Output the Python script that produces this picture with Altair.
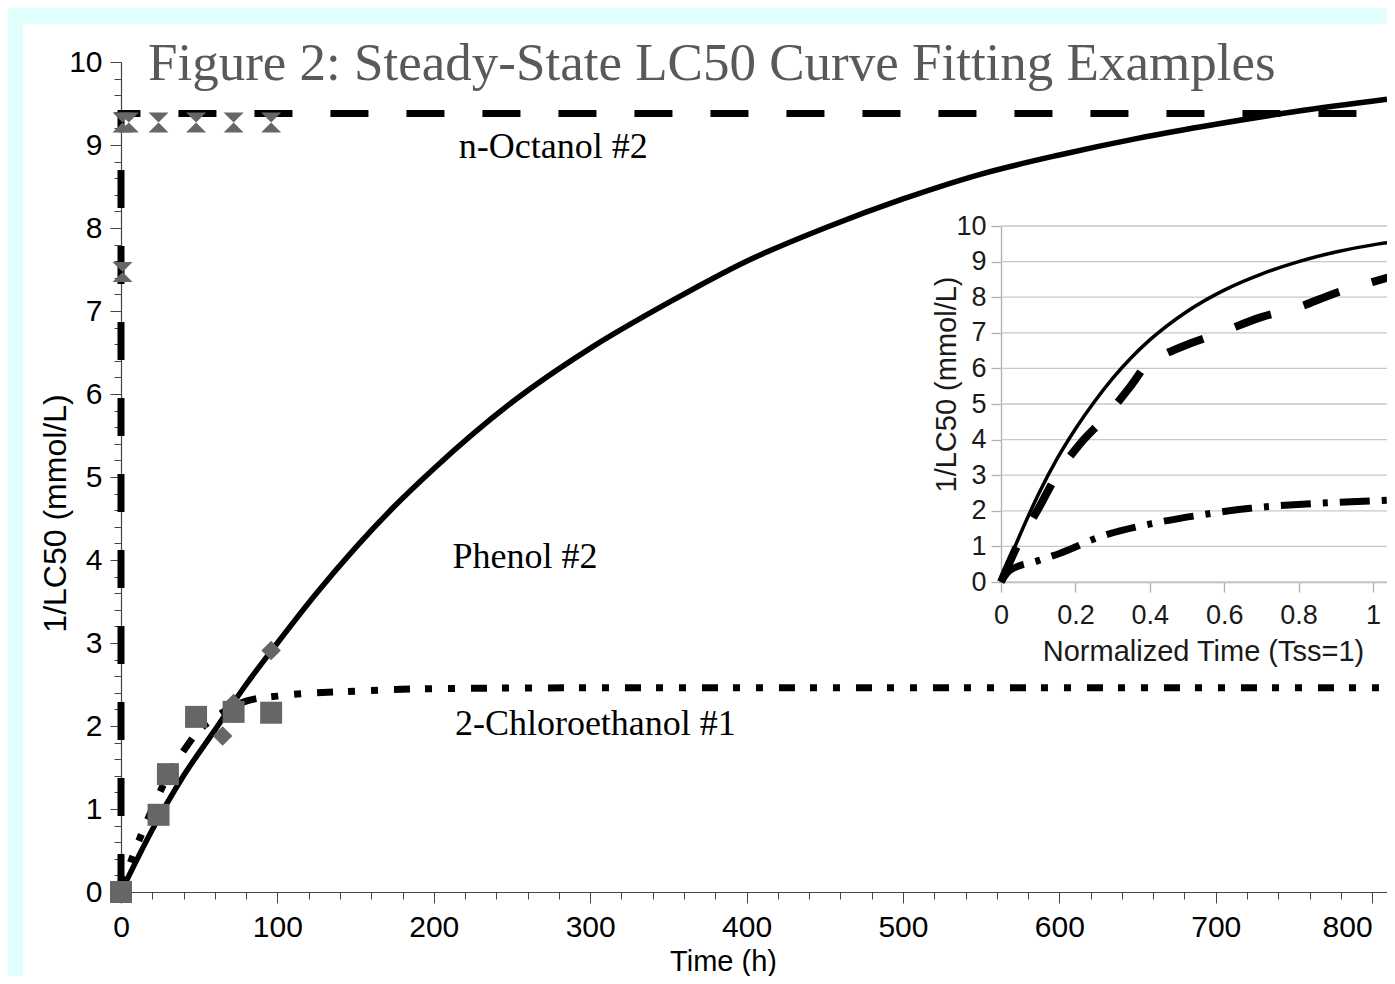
import altair as alt
import pandas as pd

TITLE = ["Figure 2: Steady-State LC50 Curve Fitting Examples"]

# ---------------- main panel (Time h vs 1/LC50 mmol/L) ----------------
phenol_fit_t = [0, 20, 40, 60, 80, 100, 125, 150, 175, 200, 250, 300, 350, 400, 450, 500, 550, 600, 650, 700, 750, 809.5]
phenol_fit_v = [0, 0.75, 1.4, 1.95, 2.5, 3.0, 3.6, 4.15, 4.65, 5.1, 5.9, 6.55, 7.1, 7.6, 8.0, 8.35, 8.65, 8.88, 9.08, 9.25, 9.4, 9.55]

chloro_fit_t = [0, 5, 10, 20, 30, 40, 50, 60, 70, 80, 100, 150, 200, 300, 809.5]
chloro_fit_v = [0, 0.3, 0.55, 1.0, 1.4, 1.7, 1.95, 2.1, 2.22, 2.3, 2.36, 2.42, 2.45, 2.46, 2.46]

octanol_fit_t = [0, 0, 809.5]
octanol_fit_v = [0, 9.38, 9.38]

octanol_obs_t = [1, 5, 24, 48, 72, 96, 1]
octanol_obs_v = [9.27, 9.27, 9.27, 9.27, 9.27, 9.27, 7.47]

chloro_obs_t = [0, 24, 30, 48, 72, 96]
chloro_obs_v = [0, 0.93, 1.42, 2.11, 2.17, 2.16]

phenol_obs_t = [65, 72, 96]
phenol_obs_v = [1.88, 2.27, 2.91]

label_text = ["n-Octanol #2", "Phenol #2", "2-Chloroethanol #1"]
label_t = [216, 212, 213.5]
label_v = [8.98, 4.04, 2.02]

x_tick_values = list(range(0, 801, 20))
y_tick_values = [round(i * 0.2, 1) for i in range(51)]

# ---------------- inset (normalized time) ----------------
in_solid_n = [0, 0.05, 0.1, 0.15, 0.2, 0.25, 0.3, 0.35, 0.4, 0.5, 0.6, 0.7, 0.8, 0.9, 1.0, 1.04]
in_solid_v = [0.05, 1.3, 2.45, 3.45, 4.3, 5.05, 5.72, 6.3, 6.8, 7.6, 8.2, 8.65, 9.0, 9.27, 9.47, 9.53]

in_dash_n = [0, 0.05, 0.1, 0.15, 0.21, 0.28, 0.347, 0.395, 0.45, 0.508, 0.589, 0.7, 0.8, 0.9, 1.0, 1.04]
in_dash_v = [0, 1.15, 2.05, 3.0, 3.85, 4.63, 5.48, 6.15, 6.45, 6.7, 7.0, 7.44, 7.72, 8.12, 8.43, 8.55]

in_dd_n = [0, 0.024, 0.1, 0.159, 0.266, 0.41, 0.535, 0.67, 0.85, 1.0, 1.04]
in_dd_v = [0, 0.33, 0.6, 0.81, 1.27, 1.65, 1.88, 2.07, 2.21, 2.28, 2.3]

in_x_ticks = [0, 0.2, 0.4, 0.6, 0.8, 1]
in_y_ticks = list(range(0, 11))
IN_XMAX = 1.04

SANS = "Liberation Sans"
SERIF = "Liberation Serif"
W, H = 1266, 830
XMAX = 809.5


def line_df(ts, vs, xname="t"):
    return pd.DataFrame({xname: ts, "v": vs, "i": list(range(len(ts)))})


# ---- scales / axes main ----
xs = alt.Scale(domain=[0, XMAX], nice=False, zero=False)
ys = alt.Scale(domain=[0, 10], nice=False, zero=False)

xaxis = alt.Axis(
    title="Time (h)", values=x_tick_values,
    labelExpr="datum.value % 100 === 0 ? '' + datum.value : ''",
    tickSize={"condition": {"test": "datum.value % 100 === 0", "value": 11}, "value": 7},
    labelAlign={"condition": {"test": "datum.value === 800", "value": "right"}, "value": "center"},
    tickColor="#444444", domainColor="#444444", tickWidth=1, domainWidth=1.2,
    grid=False, labelFont=SANS, labelFontSize=30, labelColor="black",
    labelPadding=9, labelFlush=False, labelOverlap=False,
    titleFont=SANS, titleFontSize=29, titleFontWeight="normal", titleColor="black",
    titleX=602, titleY=55, titleBaseline="top", titleAnchor="start", titleAlign="center",
)
yaxis = alt.Axis(
    title="1/LC50 (mmol/L)", values=y_tick_values,
    labelExpr="abs(datum.value - round(datum.value)) < 0.001 ? '' + round(datum.value) : ''",
    tickSize={"condition": {"test": "abs(datum.value - round(datum.value)) < 0.001", "value": 11}, "value": 7},
    tickColor="#444444", domainColor="#444444", tickWidth=1, domainWidth=1.2,
    grid=False, labelFont=SANS, labelFontSize=30, labelColor="black",
    labelPadding=8, labelFlush=False, labelOverlap=False,
    titleFont=SANS, titleFontSize=32, titleFontWeight="normal", titleColor="black",
    titleX=-66, titleY=451, titleBaseline="middle", titleAlign="center", titleAngle=270,
)


def X():
    return alt.X("t:Q", scale=xs, axis=xaxis)


def Y():
    return alt.Y("v:Q", scale=ys, axis=yaxis)


one = pd.DataFrame({"k": [0]})
cyan = "#e0fffa"
strip_top = alt.Chart(one).mark_rect(color=cyan).encode(
    x=alt.value(-200), x2=alt.value(2000), y=alt.value(-100), y2=alt.value(-38))
strip_left = alt.Chart(one).mark_rect(color=cyan).encode(
    x=alt.value(-200), x2=alt.value(-98), y=alt.value(-100), y2=alt.value(1000))

title_mark = alt.Chart(pd.DataFrame({"title": TITLE})).mark_text(
    align="left", baseline="alphabetic", font=SERIF, fontSize=53, color="#595959"
).encode(text="title:N", x=alt.value(27), y=alt.value(18))

phenol_line = alt.Chart(line_df(phenol_fit_t, phenol_fit_v)).mark_line(
    color="black", strokeWidth=5.5, strokeCap="butt", interpolate="monotone"
).encode(x=X(), y=Y(), order="i:Q")

chloro_line = alt.Chart(line_df(chloro_fit_t, chloro_fit_v)).mark_line(
    color="black", strokeWidth=7, strokeCap="butt", strokeDash=[16, 15, 7, 16, 7, 16],
    interpolate="monotone"
).encode(x=X(), y=Y(), order="i:Q")

octanol_line = alt.Chart(line_df(octanol_fit_t, octanol_fit_v)).mark_line(
    color="black", strokeWidth=7, strokeCap="butt", strokeJoin="miter", strokeDash=[38, 38]
).encode(x=X(), y=Y(), order="i:Q")

hourglass = "M-1,-1L1,-1L-1,1L1,1Z"
oct_pts = alt.Chart(pd.DataFrame({"t": octanol_obs_t, "v": octanol_obs_v})).mark_point(
    shape=hourglass, filled=True, size=400, color="#666666", opacity=1
).encode(x=X(), y=Y())
chl_pts = alt.Chart(pd.DataFrame({"t": chloro_obs_t, "v": chloro_obs_v})).mark_point(
    shape="square", filled=True, size=484, color="#666666", opacity=1
).encode(x=X(), y=Y())
phe_pts = alt.Chart(pd.DataFrame({"t": phenol_obs_t, "v": phenol_obs_v})).mark_point(
    shape="diamond", filled=True, size=380, color="#666666", opacity=1
).encode(x=X(), y=Y())

labels = alt.Chart(pd.DataFrame({"t": label_t, "v": label_v, "lab": label_text})).mark_text(
    align="left", baseline="middle", font=SERIF, fontSize=36, color="black"
).encode(x=X(), y=Y(), text="lab:N")

main = alt.layer(strip_top, strip_left, title_mark, octanol_line, phenol_line, chloro_line,
                 oct_pts, chl_pts, phe_pts, labels)

# ---- inset scales / axes ----
xsi = alt.Scale(domain=[0, IN_XMAX], range=[880, 880 + 372 * IN_XMAX], nice=False, zero=False)
ysi = alt.Scale(domain=[0, 10], range=[520, 164], nice=False, zero=False)

xaxis_i = alt.Axis(
    title="Normalized Time (Tss=1)", orient="bottom", offset=-310, values=in_x_ticks,
    format="~g", tickSize=10, tickColor="#b0b0b0", domainColor="#b0b0b0", tickWidth=1.3,
    domainWidth=1.3, grid=False, labelFont=SANS, labelFontSize=27, labelColor="#1a1a1a",
    labelPadding=10, labelFlush=False, labelOverlap=False,
    titleFont=SANS, titleFontSize=29, titleFontWeight="normal", titleColor="#1a1a1a",
    titleX=1082, titleY=69, titleBaseline="middle", titleAnchor="start", titleAlign="center",
)
yaxis_i = alt.Axis(
    title="1/LC50 (mmol/L)", orient="left", offset=-880, values=in_y_ticks,
    format="d", tickSize=10, tickColor="#b0b0b0", domainColor="#b0b0b0", tickWidth=1.3,
    domainWidth=1.3, grid=False, labelFont=SANS, labelFontSize=27, labelColor="#1a1a1a",
    labelPadding=5, labelFlush=False, labelOverlap=False,
    titleFont=SANS, titleFontSize=29, titleFontWeight="normal", titleColor="#1a1a1a",
    titleX=-55, titleY=322, titleBaseline="middle", titleAlign="center", titleAngle=270,
)


def XI():
    return alt.X("n:Q", scale=xsi, axis=xaxis_i)


def YI():
    return alt.Y("v:Q", scale=ysi, axis=yaxis_i)


grid_df = pd.DataFrame({"n": [0] * len(in_y_ticks), "n2": [IN_XMAX] * len(in_y_ticks), "v": in_y_ticks})
in_grid = alt.Chart(grid_df).mark_rule(color="#c8c8c8", strokeWidth=1.3).encode(
    x=XI(), x2="n2:Q", y=YI())

in_solid = alt.Chart(line_df(in_solid_n, in_solid_v, "n")).mark_line(
    color="black", strokeWidth=3.5, strokeCap="butt", interpolate="monotone"
).encode(x=XI(), y=YI(), order="i:Q")
in_dash = alt.Chart(line_df(in_dash_n, in_dash_v, "n")).mark_line(
    color="black", strokeWidth=8, strokeCap="butt", strokeDash=[38, 34], interpolate="monotone"
).encode(x=XI(), y=YI(), order="i:Q")
in_dd = alt.Chart(line_df(in_dd_n, in_dd_v, "n")).mark_line(
    color="black", strokeWidth=7, strokeCap="butt", strokeDash=[30, 12, 5, 12],
    interpolate="monotone"
).encode(x=XI(), y=YI(), order="i:Q")

inset = alt.layer(in_grid, in_dd, in_dash, in_solid)

chart = alt.layer(main, inset).resolve_scale(x="independent", y="independent").properties(
    width=W, height=H,
    autosize=alt.AutoSizeParams(type="none"),
    padding={"left": 113, "top": 54, "right": 0, "bottom": 84},
    background="white",
).configure_view(stroke=None)

chart.save("out.html", embed_options={"renderer": "svg", "actions": False})
